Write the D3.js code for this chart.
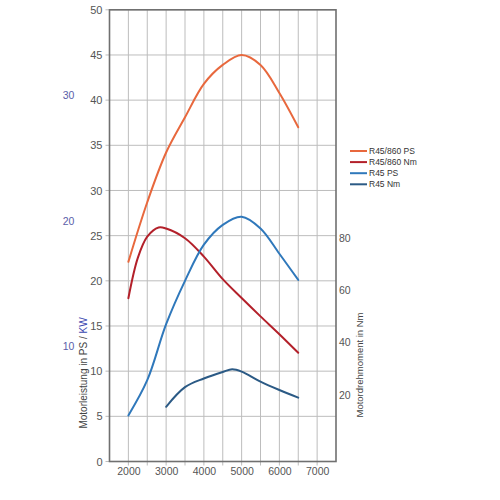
<!DOCTYPE html>
<html><head><meta charset="utf-8">
<script src="https://cdn.jsdelivr.net/npm/d3@7"></script>
<style>body{margin:0;background:#fff}svg{display:block}text{font-family:"Liberation Sans",Arial,sans-serif}</style>
</head><body><svg id="c" width="500" height="500"></svg>
<script>
// Data
const xTicks = [2000,3000,4000,5000,6000,7000];
const yTicks = [0,5,10,15,20,25,30,35,40,45,50];
const kwTicks = [10,20,30];
const nmTicks = [20,40,60,80];
const seriesNames = ["R45/860 PS","R45/860 Nm","R45 PS","R45 Nm"];
const seriesColors = ["#e8683d","#b3202a","#2f78bb","#2b5a85"];
// R45/860 PS (PS, left axis)
const r860psRpm = [2000,2500,3000,3500,4000,4500,5000,5500,6000,6500];
const r860psVal = [22.1,28.7,34.2,38.1,41.8,43.9,45.0,43.9,40.8,37.0];
// R45/860 Nm (Nm, right axis)
const r860nmRpm = [2000,2250,2500,2800,3000,3500,4000,4500,5000,5500,6000,6500];
const r860nmVal = [56.9,72.3,80.4,83.9,83.5,79.8,72.8,64.2,57.0,50.0,43.2,36.1];
// R45 PS (PS, left axis)
const r45psRpm = [2000,2500,3000,3500,4000,4500,5000,5500,6000,6500];
const r45psVal = [5.1,9.0,15.2,20.0,24.0,26.2,27.1,25.8,23.0,20.1];
// R45 Nm (Nm, right axis)
const r45nmRpm = [3000,3500,4000,4500,4750,5000,5500,6000,6500];
const r45nmVal = [15.5,23.0,26.3,28.8,29.8,28.9,25.1,21.9,19.0];

const svg = d3.select("#c");
const m = {l:109.5, t:9.8};
const W = 226.5, H = 451.7;
const g = svg.append("g").attr("transform",`translate(${m.l},${m.t})`);
const x = d3.scaleLinear().domain([1500,7500]).range([0,W]);
const y = d3.scaleLinear().domain([0,50]).range([H,0]);
const y2 = d3.scaleLinear().domain([20,80]).range([385.2,227.9]);
const yKw = d3.scaleLinear().domain([10,30]).range([336.9,85.2]);

// grid
const vGrid = d3.range(2000,7500,500);
g.selectAll(".vg").data(vGrid).join("line")
 .attr("x1",d=>x(d)).attr("x2",d=>x(d)).attr("y1",0).attr("y2",H+4)
 .attr("stroke","#bdbdbd").attr("stroke-width",1);
g.selectAll(".hg").data(yTicks).join("line")
 .attr("x1",-4).attr("x2",W).attr("y1",d=>y(d)).attr("y2",d=>y(d))
 .attr("stroke","#bdbdbd").attr("stroke-width",1);

// frame
g.append("rect").attr("x",0).attr("y",0).attr("width",W).attr("height",H)
 .attr("fill","none").attr("stroke","#707070").attr("stroke-width",1.6);

// left axis
const la = g.append("g").call(d3.axisLeft(y).tickValues(yTicks).tickSize(0).tickPadding(7));
la.select(".domain").remove();
la.selectAll("text").attr("font-size",11).attr("fill","#555");
// bottom axis
const ba = g.append("g").attr("transform",`translate(0,${H})`)
 .call(d3.axisBottom(x).tickValues(xTicks).tickFormat(d3.format("d")).tickSize(0).tickPadding(6));
ba.select(".domain").remove();
ba.selectAll("text").attr("font-size",10.5).attr("fill","#555");
// right axis (Nm)
const ra = g.append("g").attr("transform",`translate(${W},0)`)
 .call(d3.axisRight(y2).tickValues(nmTicks).tickSize(0).tickPadding(3));
ra.select(".domain").remove();
ra.selectAll("text").attr("font-size",10.5).attr("fill","#555");
// KW labels
g.selectAll(".kw").data(kwTicks).join("text")
 .attr("x",-41).attr("y",d=>yKw(d)).attr("dy","0.35em").attr("text-anchor","middle")
 .attr("font-size",10.5).attr("fill","#5b5ea8").text(d=>d);

// axis titles
const lt = svg.append("text").attr("transform","translate(87,373) rotate(-90)")
 .attr("text-anchor","middle").attr("font-size",10).attr("fill","#444");
lt.append("tspan").text("Motorleistung in PS / ");
lt.append("tspan").attr("fill","#3a48b0").text("KW");
svg.append("text").attr("transform","translate(363,365) rotate(-90)")
 .attr("text-anchor","middle").attr("font-size",9.5).attr("fill","#444")
 .text("Motordrehmoment in Nm");

// lines
const curve = d3.curveCatmullRom.alpha(0.5);
const lineL = d3.line().x(d=>x(d[0])).y(d=>y(d[1])).curve(curve);
const lineR = d3.line().x(d=>x(d[0])).y(d=>y2(d[1])).curve(curve);
const sets = [
 {rpm:r860psRpm,val:r860psVal,ln:lineL,c:seriesColors[0]},
 {rpm:r860nmRpm,val:r860nmVal,ln:lineR,c:seriesColors[1]},
 {rpm:r45psRpm,val:r45psVal,ln:lineL,c:seriesColors[2]},
 {rpm:r45nmRpm,val:r45nmVal,ln:lineR,c:seriesColors[3]}
];
sets.forEach(s=>{
 g.append("path").datum(s.rpm.map((r,i)=>[r,s.val[i]]))
  .attr("d",s.ln).attr("fill","none").attr("stroke",s.c).attr("stroke-width",2)
  .attr("stroke-linecap","round");
});

// legend
const lg = svg.append("g").attr("transform","translate(350,151)");
seriesNames.forEach((n,i)=>{
 const row = lg.append("g").attr("transform",`translate(0,${i*11.1})`);
 row.append("line").attr("x1",0).attr("x2",17).attr("stroke",seriesColors[i]).attr("stroke-width",2);
 row.append("text").attr("x",19).attr("dy","0.35em").attr("font-size",8.5).attr("fill","#333").text(n);
});
</script></body></html>
